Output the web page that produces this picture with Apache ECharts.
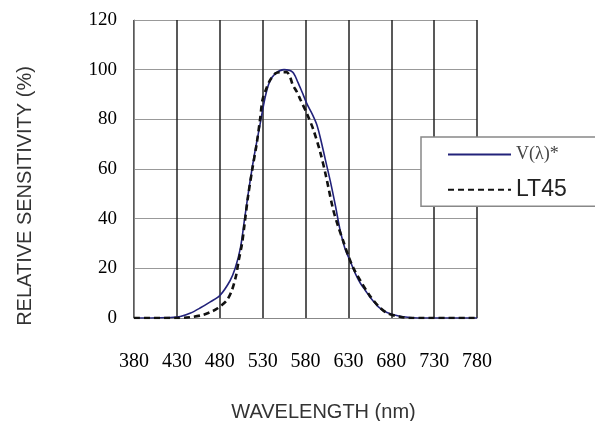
<!DOCTYPE html>
<html>
<head>
<meta charset="utf-8">
<script src="https://cdn.jsdelivr.net/npm/echarts@6/dist/echarts.min.js"></script>
<style>html,body{margin:0;padding:0;background:#fff}#c{width:595px;height:421px}</style>
</head>
<body>
<div id="c"></div>
<script>
var xTicks = [380, 430, 480, 530, 580, 630, 680, 730, 780];
var yTicks = [0, 20, 40, 60, 80, 100, 120];

var vLambdaWl  = [380, 400, 422, 434, 446, 457, 469, 480, 492, 498, 504, 509, 514, 520, 527, 533, 538, 545, 555, 565, 571, 576, 582, 588, 593, 597, 603, 609, 615, 620, 626, 632, 638, 644, 650, 655, 665, 675, 690, 705, 720, 780];
var vLambdaVal = [0, 0, 0.2, 0.6, 2, 4, 6.5, 9, 15, 20, 28, 40, 52, 65, 78, 89, 95, 98.5, 100, 99, 95, 91, 86, 82, 78, 73, 64, 55, 45, 36, 28, 23, 18, 14, 11, 8.5, 4.5, 2.2, 0.7, 0.1, 0, 0];

var lt45Wl  = [380, 430, 445, 460, 470, 478, 488, 494, 499, 502, 506, 509, 513, 518, 523, 527, 530, 535, 539, 545, 552, 558, 562, 565, 570, 574, 582, 589, 597, 604, 612, 618, 624, 630, 636, 644, 655, 665, 675, 690, 702, 780];
var lt45Val = [0, 0, 0.3, 1.2, 2.5, 4, 7, 11, 17, 23, 30, 38, 49, 60, 70, 80, 88, 93, 96, 98.5, 99, 99, 97, 94, 91, 88, 82, 76, 67, 57, 44, 37, 31, 25, 20, 15, 9, 4.8, 2, 0.5, 0, 0];

var seriesNames = ['V(\u03bb)*', 'LT45'];

function pairs(xs, ys) { return xs.map(function (x, i) { return [x, ys[i]]; }); }

var chart = echarts.init(document.getElementById('c'), null, {renderer: 'canvas'});
chart.setOption({
  backgroundColor: '#fff',
  animation: false,
  grid: {left: 134, right: 118, top: 20, bottom: 103, show: false, containLabel: false, outerBoundsMode: 'none'},
  xAxis: {
    type: 'value',
    min: xTicks[0], max: xTicks[xTicks.length - 1], interval: 50,
    name: 'WAVELENGTH (nm)',
    nameLocation: 'middle',
    nameGap: 84,
    nameTextStyle: {fontFamily: 'Liberation Sans', fontSize: 20, color: '#333', padding: [0, 0, 0, 36]},
    axisLine: {show: true, lineStyle: {color: '#888', width: 1}},
    axisTick: {show: false},
    axisLabel: {fontFamily: 'Liberation Serif', fontSize: 20, color: '#000', margin: 34},
    splitLine: {show: true, lineStyle: {color: '#222', width: 1.5}}
  },
  yAxis: {
    type: 'value',
    min: yTicks[0], max: yTicks[yTicks.length - 1], interval: 20,
    name: 'RELATIVE SENSITIVITY (%)',
    nameLocation: 'middle',
    nameGap: 99,
    nameRotate: 90,
    nameTextStyle: {fontFamily: 'Liberation Sans', fontSize: 20, color: '#333', padding: [0, 54, 0, 0]},
    axisLine: {show: true, lineStyle: {color: '#888', width: 1}},
    axisTick: {show: false},
    axisLabel: {fontFamily: 'Liberation Serif', fontSize: 19, color: '#000', margin: 17},
    splitLine: {show: true, lineStyle: {color: '#999', width: 1}}
  },
  legend: {
    orient: 'vertical',
    left: 421, top: 137,
    padding: [8, 80, 5, 26],
    itemGap: 14,
    itemWidth: 63,
    itemHeight: 24,
    backgroundColor: '#fff',
    borderColor: '#888',
    borderWidth: 1.5,
    borderRadius: 0,
    itemStyle: {opacity: 0},
    data: seriesNames,
    formatter: function (n) { return n === seriesNames[0] ? '{a|' + n + '}' : '{b|' + n + '}'; },
    textStyle: {
      rich: {
        a: {fontFamily: 'Liberation Serif', fontSize: 18, color: '#444', lineHeight: 24},
        b: {fontFamily: 'Liberation Sans', fontSize: 23, color: '#222', lineHeight: 24}
      }
    }
  },
  series: [
    {
      name: seriesNames[0], type: 'line', data: pairs(vLambdaWl, vLambdaVal),
      smooth: 0.3, showSymbol: false, symbol: 'none',
      lineStyle: {color: '#22227a', width: 1.6},
      itemStyle: {color: '#22227a'},
      z: 3
    },
    {
      name: seriesNames[1], type: 'line', data: pairs(lt45Wl, lt45Val),
      smooth: 0.3, showSymbol: false, symbol: 'none',
      lineStyle: {color: '#111', width: 2.6, type: [6, 4]},
      itemStyle: {color: '#111'},
      z: 4
    }
  ]
});
</script>
</body>
</html>
